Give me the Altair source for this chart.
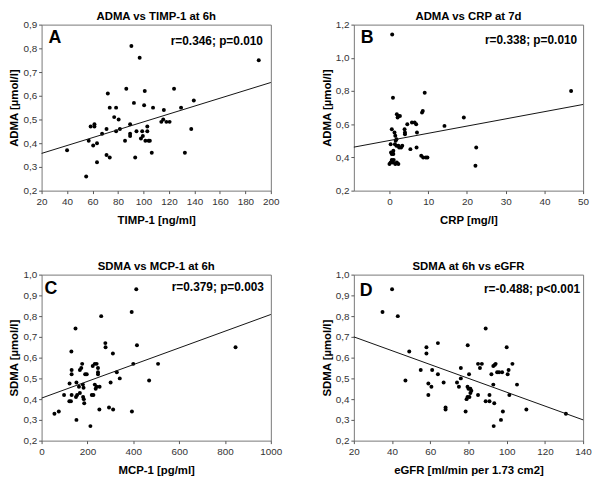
import altair as alt
import pandas as pd

FONT = "Liberation Sans"

# ---------------- Panel A: ADMA vs TIMP-1 at 6h ----------------
a_x = [40, 55, 57, 58.5, 60.5, 61.5, 61.5, 63.5, 63.5, 67.5, 71, 71, 72, 73.5, 73.5,
       77, 78.5, 78.5, 80.5, 81.5, 85.5, 86.5, 89.5, 89.5, 89.5, 90.5, 92.5, 93.5, 94.5, 97,
       98, 99, 99.5, 100.5, 101, 101.5, 103, 103, 104, 105, 106.5, 107.5, 114, 115.5, 116,
       118, 120.5, 124, 129.5, 132.5, 137.5, 139.5, 190.5]
a_y = [0.37, 0.26, 0.41, 0.47, 0.39, 0.48, 0.47, 0.40, 0.32, 0.44, 0.46, 0.35, 0.61, 0.55, 0.34,
       0.51, 0.55, 0.45, 0.50, 0.46, 0.41, 0.63, 0.44, 0.43, 0.48, 0.81, 0.57, 0.34, 0.45, 0.76,
       0.42, 0.45, 0.43, 0.56, 0.62, 0.41, 0.47, 0.45, 0.41, 0.41, 0.36, 0.55, 0.49, 0.50, 0.54,
       0.49, 0.49, 0.63, 0.55, 0.36, 0.46, 0.58, 0.75]
a_fit_x = [20, 200]
a_fit_y = [0.357, 0.656]
a_xticks = [20, 40, 60, 80, 100, 120, 140, 160, 180, 200]
a_yticks = [0.2, 0.3, 0.4, 0.5, 0.6, 0.7, 0.8, 0.9]

# ---------------- Panel B: ADMA vs CRP at 7d ----------------
b_x = [0.7, 0.9, 9.1, 46.9, 19.2, 14.2, 22.4, 22.2, 8.6, 8.4, 1.9, 2.3, 2.1, 2.7,
       4.6, 5.8, 6.5, 6.9, 7.1, 7.0, 5.4, 3.9, 4.0, 4.0, 0.6, 1.3, 1.5, 1.8, 1.6,
       0.3, 1.4, 1.8, 2.3, 2.5, 3.0, 3.3, 1.0, 0.8, 1.0, 0.4, 0.6, 0.6, 1.1, 0.9,
       0.0, 0.3, 2.3, 1.5, 1.9, 8.2, 8.7, 9.4, 9.8]
b_y = [1.14, 0.76, 0.79, 0.80, 0.64, 0.59, 0.46, 0.35, 0.68, 0.67, 0.66, 0.65, 0.64, 0.65,
       0.60, 0.61, 0.61, 0.60, 0.55, 0.46, 0.45, 0.57, 0.55, 0.54, 0.57, 0.55, 0.53, 0.51, 0.50,
       0.48, 0.48, 0.47, 0.47, 0.46, 0.46, 0.47, 0.44, 0.43, 0.42, 0.43, 0.42, 0.385, 0.385, 0.37,
       0.36, 0.37, 0.36, 0.36, 0.37, 0.41, 0.40, 0.40, 0.40]
b_fit_x = [-9.2, 50]
b_fit_y = [0.462, 0.719]
b_xticks = [0, 10, 20, 30, 40, 50]
b_yticks = [0.2, 0.4, 0.6, 0.8, 1.0, 1.2]

# ---------------- Panel C: SDMA vs MCP-1 at 6h ----------------
c_x = [56, 75, 98, 122, 121, 128, 130, 131, 131, 131, 148, 152, 152, 150, 155, 163, 167,
       167, 173, 177, 180, 181, 184, 186, 183, 190, 197, 213, 219, 226, 223, 232, 240, 232,
       240, 236, 246, 246, 246, 253, 252, 260, 278, 279, 294, 301, 311, 312, 328, 341, 393,
       394, 400, 413, 416, 469, 508, 846]
c_y = [0.33, 0.34, 0.42, 0.475, 0.39, 0.39, 0.63, 0.54, 0.52, 0.42, 0.74, 0.48, 0.30, 0.41,
       0.42, 0.46, 0.43, 0.54, 0.55, 0.57, 0.47, 0.41, 0.40, 0.38, 0.455, 0.52, 0.52, 0.27, 0.42,
       0.42, 0.56, 0.57, 0.57, 0.47, 0.46, 0.45, 0.55, 0.53, 0.52, 0.46, 0.35, 0.80, 0.67, 0.65,
       0.36, 0.48, 0.62, 0.35, 0.53, 0.50, 0.82, 0.34, 0.57, 0.93, 0.66, 0.49, 0.57, 0.65]
c_fit_x = [0, 1000]
c_fit_y = [0.405, 0.808]
c_xticks = [0, 200, 400, 600, 800, 1000]
c_yticks = [0.2, 0.3, 0.4, 0.5, 0.6, 0.7, 0.8, 0.9, 1.0]

# ---------------- Panel D: SDMA at 6h vs eGFR ----------------
d_x = [35, 40, 43, 47, 49, 55, 58, 58, 59, 59, 60.6, 61, 64, 64, 67, 68, 68, 74, 75, 76, 76,
       78.5, 79, 79.5, 80.5, 79.6, 79.5, 80, 81, 80.3, 81, 81.5, 85, 85, 87, 86, 89, 89, 91,
       91, 92, 93, 93, 93.7, 94.2, 93.5, 93.2, 95, 96, 97.6, 97, 98, 100, 100.5, 101, 101.4,
       103, 105.4, 110.3, 131]
d_y = [0.82, 0.93, 0.80, 0.49, 0.63, 0.54, 0.65, 0.62, 0.475, 0.42, 0.46, 0.54, 0.67, 0.52,
       0.48, 0.36, 0.35, 0.48, 0.46, 0.55, 0.50, 0.34, 0.40, 0.41, 0.41, 0.66, 0.46, 0.45, 0.45,
       0.52, 0.43, 0.44, 0.42, 0.57, 0.57, 0.55, 0.74, 0.39, 0.39, 0.42, 0.52, 0.47, 0.56, 0.565,
       0.57, 0.38, 0.27, 0.53, 0.53, 0.53, 0.30, 0.34, 0.65, 0.52, 0.54, 0.42, 0.57, 0.47, 0.35,
       0.33]
d_fit_x = [20, 140]
d_fit_y = [0.70, 0.30]
d_xticks = [20, 40, 60, 80, 100, 120, 140]
d_yticks = [0.2, 0.3, 0.4, 0.5, 0.6, 0.7, 0.8, 0.9, 1.0]

W, H = 232, 168
COMMA = "replace(format(datum.value, '.1f'), '.', ',')"


def panel(xs, ys, fx, fy, xdom, xticks, ydom, yticks, title, xtitle, ytitle,
          letter, stat, lx, ly, sx, sy):
    pts = pd.DataFrame({"x": xs, "y": ys})
    fit = pd.DataFrame({"x": fx, "y": fy})
    xsc = alt.Scale(domain=xdom, nice=False, zero=False)
    ysc = alt.Scale(domain=ydom, nice=False, zero=False)
    xax = alt.Axis(values=xticks, tickCount=50, title=xtitle, format="d",
                   labelOverlap=False, labelFlush=False)
    yax = alt.Axis(values=yticks, tickCount=50, title=ytitle, labelExpr=COMMA,
                   labelOverlap=False, labelFlush=False)
    points = alt.Chart(pts).mark_circle(size=16, color="black", opacity=1).encode(
        x=alt.X("x:Q", scale=xsc, axis=xax),
        y=alt.Y("y:Q", scale=ysc, axis=yax),
    )
    line = alt.Chart(fit).mark_line(color="#111", strokeWidth=1).encode(
        x=alt.X("x:Q", scale=xsc, axis=xax), y=alt.Y("y:Q", scale=ysc, axis=yax)
    )
    let = alt.Chart(pd.DataFrame({"t": [letter]})).mark_text(
        font=FONT, fontSize=18, fontWeight="bold", align="left", baseline="top", color="black"
    ).encode(x=alt.value(lx), y=alt.value(ly), text="t:N")
    st = alt.Chart(pd.DataFrame({"t": [stat]})).mark_text(
        font=FONT, fontSize=12, fontWeight="bold", align="right", baseline="alphabetic", color="black"
    ).encode(x=alt.value(W - sx), y=alt.value(sy), text="t:N")
    return alt.layer(points, line, let, st).properties(
        width=W, height=H, title=alt.TitleParams(text=title)
    )


pa = panel(a_x, a_y, a_fit_x, a_fit_y, [20, 200], a_xticks, [0.2, 0.9], a_yticks,
           "ADMA vs TIMP-1 at 6h", "TIMP-1 [ng/ml]", "ADMA [µmol/l]",
           "A", "r=0.346; p=0.010", 7, 5, 8, 21)
pb = panel(b_x, b_y, b_fit_x, b_fit_y, [-9.2, 50], b_xticks, [0.2, 1.2], b_yticks,
           "ADMA vs CRP at 7d", "CRP [mg/l]", "ADMA [µmol/l]",
           "B", "r=0.338; p=0.010", 7, 5, 6, 20)
pc = panel(c_x, c_y, c_fit_x, c_fit_y, [0, 1000], c_xticks, [0.2, 1.0], c_yticks,
           "SDMA vs MCP-1 at 6h", "MCP-1 [pg/ml]", "SDMA [µmol/l]",
           "C", "r=0.379; p=0.003", 3, 6, 7, 17)
pd_ = panel(d_x, d_y, d_fit_x, d_fit_y, [20, 140], d_xticks, [0.2, 1.0], d_yticks,
            "SDMA at 6h vs eGFR", "eGFR [ml/min per 1.73 cm2]", "SDMA [µmol/l]",
            "D", "r=-0.488; p<0.001", 6, 8, 3, 19)

chart = alt.concat(
    pa, pb, pc, pd_, columns=2, spacing={"row": 85, "column": 84}, bounds="flush"
).properties(
    padding=0, background="white"
).configure_view(
    stroke="#777", strokeWidth=1
).configure_axis(
    grid=False, domain=False, ticks=True, tickSize=3, tickColor="#555",
    labelFont=FONT, labelFontSize=10, labelColor="#333", labelPadding=2,
    titleFont=FONT, titleFontSize=11.5, titleFontWeight="bold", titleColor="black",
).configure_axisX(
    titlePadding=8, labelPadding=3
).configure_axisY(
    titlePadding=3
).configure_title(
    font=FONT, fontSize=11.5, fontWeight="bold", color="black", anchor="middle", offset=-3
)

chart.save("out.html", embed_options={"renderer": "svg", "actions": False})
